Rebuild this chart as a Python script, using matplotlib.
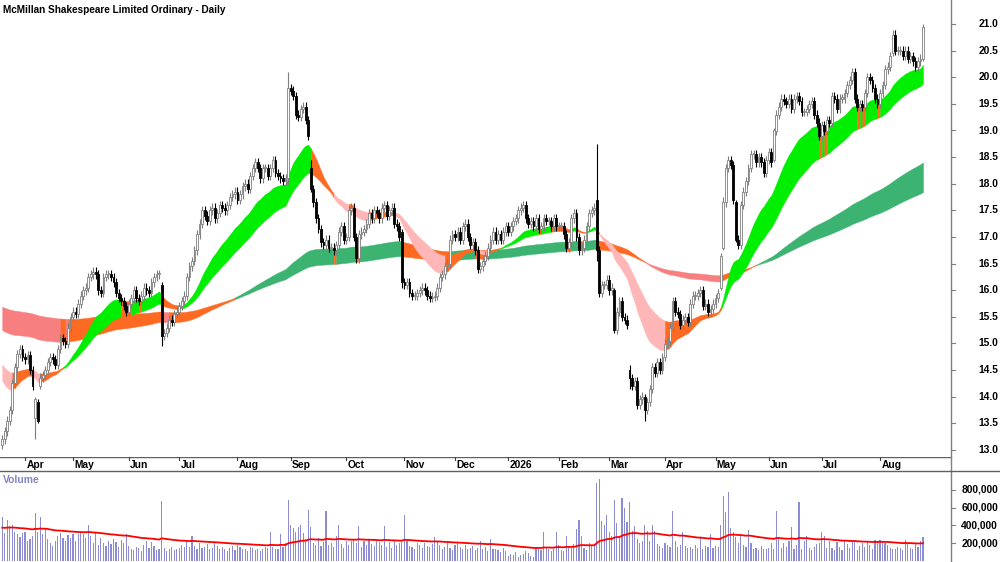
import numpy as np
import pandas as pd
import matplotlib
matplotlib.use("Agg")
import matplotlib.pyplot as plt
import matplotlib.transforms as mtrans

plt.rcParams['font.family'] = ['Liberation Sans', 'DejaVu Sans']

TITLE = "McMillan Shakespeare Limited Ordinary - Daily"

close = [
    13.2, 13.35, 13.55, 13.75, 14.25, 14.55, 14.8, 14.9, 14.75, 14.7,
    14.78, 14.5, 14.2, 13.95, 13.55, 14.35, 14.4, 14.5, 14.65, 14.75,
    14.7, 14.6, 14.9, 15.1, 15.05, 15.0, 15.3, 15.5, 15.6, 15.55,
    15.75, 15.9, 16.0, 16.05, 16.25, 16.3, 16.35, 16.3, 16.0, 15.95,
    16.25, 16.3, 16.3, 16.25, 16.15, 15.95, 15.85, 15.8, 15.7, 15.6,
    15.75, 15.85, 16.0, 15.85, 15.8, 15.9, 16.05, 16.0, 15.95, 16.15,
    16.25, 16.3, 16.3, 15.15, 15.2, 15.3, 15.45, 15.4, 15.55, 15.6,
    15.7, 15.8, 15.9, 16.25, 16.45, 16.55, 16.75, 17.05, 17.25, 17.5,
    17.4, 17.3, 17.5, 17.55, 17.35, 17.45, 17.6, 17.55, 17.5, 17.6,
    17.75, 17.8, 17.85, 17.7, 17.8, 17.95, 18.0, 17.9, 18.15, 18.3,
    18.4, 18.3, 18.1, 18.3, 18.3, 18.15, 18.3, 18.45, 18.2, 18.15,
    18.1, 18.05, 18.1, 19.8, 19.75, 19.65, 19.3, 19.25, 19.4, 19.45,
    19.2, 18.9, 17.9, 17.65, 17.35, 17.15, 16.9, 16.85, 16.95, 16.8,
    16.8, 16.75, 16.85, 17.1, 17.2, 16.95, 17.0, 17.5, 17.55, 17.0,
    16.6, 17.05, 17.1, 17.15, 17.25, 17.45, 17.35, 17.5, 17.45, 17.35,
    17.55, 17.6, 17.4, 17.5, 17.55, 17.25, 17.2, 17.0, 16.15, 16.1,
    16.15, 15.95, 15.9, 15.9, 15.95, 16.0, 16.05, 16.0, 15.9, 15.85,
    15.88, 15.9, 16.05, 16.25, 16.3, 16.45, 16.5, 16.95, 17.05, 17.0,
    17.1, 16.95, 17.2, 17.25, 17.0, 16.85, 16.9, 16.75, 16.4, 16.45,
    16.55, 16.65, 16.8, 16.95, 17.1, 16.95, 17.05, 16.95, 17.1, 17.2,
    17.1, 17.2, 17.3, 17.35, 17.5, 17.55, 17.6, 17.35, 17.25, 17.3,
    17.2, 17.35, 17.15, 17.2, 17.35, 17.3, 17.3, 17.2, 17.35, 17.2,
    17.2, 17.2, 17.05, 16.8, 16.9, 17.35, 17.45, 17.0, 16.75, 16.8,
    16.95, 17.2, 17.45, 17.5, 17.55, 16.75, 15.95, 16.1, 16.1, 16.2,
    16.0, 16.05, 15.25, 15.6, 15.8, 15.5, 15.45, 15.35, 14.35, 14.2,
    14.3, 13.85, 13.95, 14.0, 13.75, 13.9, 14.15, 14.55, 14.45, 14.65,
    14.5, 14.75, 15.0, 15.05, 15.3, 15.8, 15.6, 15.55, 15.35, 15.45,
    15.5, 15.4, 15.75, 15.9, 15.9, 15.95, 16.0, 15.7, 15.75, 15.6,
    15.65, 15.75, 15.85, 15.95, 16.65, 17.65, 18.3, 18.45, 18.35, 17.7,
    16.95, 16.85, 17.6, 17.85, 18.05, 18.3, 18.55, 18.55, 18.4, 18.5,
    18.4, 18.2, 18.45, 18.6, 18.4, 19.0, 19.3, 19.45, 19.6, 19.55,
    19.5, 19.6, 19.4, 19.6, 19.65, 19.55, 19.35, 19.35, 19.4, 19.5,
    19.55, 19.3, 19.15, 18.9, 19.1, 19.0, 19.2, 19.15, 19.65, 19.6,
    19.4, 19.6, 19.6, 19.7, 19.85, 19.95, 20.1, 19.6, 19.45, 19.5,
    19.45, 19.7, 20.0, 19.95, 19.8, 19.6, 19.5, 19.7, 19.85, 20.15,
    20.2, 20.4, 20.8, 20.5, 20.5, 20.5, 20.4, 20.5, 20.35, 20.4,
    20.3, 20.2, 20.3, 20.35, 20.95,
]

# bars whose open/high/low/close were read individually (o, h, l, c)
ohlc_overrides = {
    13: (13.6, 14.0, 13.2, 13.95),
    14: (13.9, 13.95, 13.5, 13.55),
    15: (14.2, 14.45, 14.15, 14.35),
    63: (16.1, 16.15, 14.95, 15.15),
    113: (18.1, 20.1, 18.0, 19.8),
    122: (18.3, 18.45, 17.85, 17.9),
    158: (17.1, 17.15, 16.05, 16.15),
    235: (17.7, 18.75, 16.55, 16.75),
    242: (16.0, 16.05, 15.2, 15.25),
    248: (14.5, 14.6, 14.15, 14.35),
    254: (14.0, 14.05, 13.55, 13.75),
    284: (16.05, 16.7, 16.0, 16.65),
    285: (16.8, 17.75, 16.75, 17.65),
    290: (17.65, 17.7, 16.9, 16.95),
    305: (18.45, 19.05, 18.4, 19.0),
    352: (20.45, 20.88, 20.4, 20.8),
    364: (20.35, 21.0, 20.3, 20.95),
}
first_open = 13.1
wick = 0.08

volume_k = [
    500, 320, 460, 390, 400, 330, 300, 270, 310, 330,
    230, 250, 280, 540, 330, 500, 300, 370, 250, 200,
    170, 230, 280, 320, 260, 230, 290, 260, 300, 230,
    300, 330, 300, 260, 400, 280, 200, 320, 180, 260,
    200, 170, 230, 190, 250, 210, 160, 240, 200, 300,
    170, 140, 120, 160, 150, 110, 180, 220, 150, 210,
    170, 120, 140, 670, 150, 110, 130, 160, 120, 140,
    150, 180, 160, 220, 160, 280, 170, 140, 200, 150,
    160, 190, 140, 150, 200, 170, 130, 160, 140, 110,
    150, 170, 120, 180, 160, 140, 130, 110, 160, 150,
    120, 140, 110, 130, 160, 150, 330, 160, 140, 130,
    300, 160, 200, 690, 410, 370, 330, 380, 400, 310,
    250, 570, 380, 200, 180, 260, 170, 210, 560, 180,
    200, 160, 280, 400, 190, 150, 230, 180, 220, 250,
    200, 390, 160, 220, 180, 250, 190, 170, 230, 210,
    180, 395, 160, 210, 150, 230, 180, 200, 210, 520,
    220, 170, 160, 140, 200, 180, 150, 200, 170, 160,
    190, 270, 210, 180, 140, 160, 200, 150, 120, 180,
    200, 160, 130, 180, 140, 150, 170, 120, 150, 230,
    130, 160, 110, 250, 140, 130, 120, 100, 150, 110,
    60, 80, 70, 100, 50, 70, 80, 110, 90, 60,
    50, 150, 140, 120, 330, 160, 130, 110, 140, 330,
    180, 120, 110, 280, 170, 150, 190, 360, 460, 280,
    150, 120, 200, 180, 170, 875, 920, 450, 400, 520,
    330, 280, 690, 430, 280, 710, 600, 440, 660, 340,
    390, 250, 200, 220, 400, 340, 220, 400, 340, 190,
    170, 150, 200, 180, 160, 560, 220, 160, 180, 330,
    170, 150, 160, 140, 180, 150, 270, 140, 170, 160,
    300, 150, 170, 160, 400, 730, 550, 780, 370, 330,
    270, 200, 290, 180, 160, 350, 200, 130, 150, 120,
    170, 140, 130, 150, 200, 130, 560, 270, 150, 200,
    160, 230, 380, 130, 180, 660, 140, 220, 280, 150,
    120, 160, 190, 200, 330, 280, 150, 230, 150, 120,
    210, 160, 120, 230, 190, 150, 220, 230, 120, 170,
    200, 160, 210, 180, 140, 240, 220, 240, 230, 200,
    180, 150, 130, 140, 160, 150, 120, 240, 200, 150,
    130, 200, 160, 220, 270,
]

month_labels = ["Apr", "May", "Jun", "Jul", "Aug", "Sep", "Oct", "Nov", "Dec",
                "2026", "Feb", "Mar", "Apr", "May", "Jun", "Jul", "Aug"]
price_ticks = [13.0, 13.5, 14.0, 14.5, 15.0, 15.5, 16.0, 16.5, 17.0, 17.5,
               18.0, 18.5, 19.0, 19.5, 20.0, 20.5, 21.0]
volume_ticks = [200000, 400000, 600000, 800000]

# moving-average ribbons (periods) and their starting levels read at the left edge
short_periods = [23, 26, 30, 34, 38, 43]
long_periods = [150, 165, 180, 200, 220, 240]
short_start = (14.3, 14.6)
long_start = (15.25, 15.69)
vol_ma_span = 60
vol_ma_start = 370000

asx_holidays = ["2025-04-18", "2025-04-21", "2025-04-25", "2025-06-09",
                "2025-12-25", "2025-12-26", "2026-01-01", "2026-01-26",
                "2026-04-03", "2026-04-06", "2026-06-08"]

# ------------------------------------------------------------------
n = min(len(close), len(volume_k))
close_a = np.array(close[:n], dtype=float)
vol = np.array(volume_k[:n], dtype=float) * 1000
cbd = pd.offsets.CustomBusinessDay(holidays=asx_holidays)
dates = pd.date_range("2025-03-19", periods=n, freq=cbd)
x = np.arange(n)

opens = np.empty(n)
opens[0] = first_open
opens[1:] = close_a[:-1]
for i, (o, h, l, c) in ohlc_overrides.items():
    if i < n:
        close_a[i] = c
        if i + 1 < n and (i + 1) not in ohlc_overrides:
            opens[i + 1] = c
highs = np.maximum(opens, close_a) + wick
lows = np.minimum(opens, close_a) - wick
for i, (o, h, l, c) in ohlc_overrides.items():
    if i < n:
        opens[i], highs[i], lows[i] = o, h, l


def ema_stack(periods, start):
    seeds = np.linspace(start[0], start[1], len(periods))
    out = np.empty((len(periods), n))
    for k, (p, s) in enumerate(zip(periods, seeds)):
        a = 2.0 / (p + 1)
        e = s
        for i in range(n):
            if i > 0:
                e = e + a * (close_a[i] - e)
            out[k, i] = e
    return out


def draw_ribbon(ax, stack, c_up, c_down, c_mix, z):
    lo = stack.min(axis=0)
    hi = stack.max(axis=0)
    slope = np.diff(stack, axis=1)
    slope = np.concatenate([slope[:, :1], slope], axis=1)
    fast_above = stack[0] > stack[-1]
    state = np.where(np.all(slope > 0, axis=0) & fast_above, 1,
                     np.where(np.all(slope < 0, axis=0) & ~fast_above, -1, 0))
    colors = {1: c_up, -1: c_down, 0: c_mix}
    start = 0
    for i in range(1, n + 1):
        if i == n or state[i] != state[start]:
            end = min(i, n - 1)
            sl = slice(start, end + 1)
            ax.fill_between(x[sl], lo[sl], hi[sl], color=colors[state[start]],
                            linewidth=0.3, edgecolor=colors[state[start]], zorder=z)
            start = i


short_stack = ema_stack(short_periods, short_start)
long_stack = ema_stack(long_periods, long_start)

W, H = 1000, 562
fig = plt.figure(figsize=(W / 100, H / 100), dpi=100)
fig.patch.set_facecolor("white")

RIGHT = 951
x0_px, dx_px = 2.23, 2.5296
xlim = ((0 - x0_px) / dx_px, (RIGHT - x0_px) / dx_px)

price_bot = 457
strip_bot = 471
ax = fig.add_axes([0, 1 - price_bot / H, RIGHT / W, price_bot / H])
ax_d = fig.add_axes([0, 1 - strip_bot / H, RIGHT / W, (strip_bot - price_bot) / H])
ax_v = fig.add_axes([0, 0, RIGHT / W, (H - strip_bot) / H])

px_per = 53.25
ax.set_ylim(13.0 - (price_bot - 450) / px_per, 21.0 + 24 / px_per)
ax.set_xlim(*xlim)

GREY = "#7f7f7f"
draw_ribbon(ax, long_stack, "#3cb371", "#f77f7f", "#ff6a22", 1)
draw_ribbon(ax, short_stack, "#00ee00", "#ffb6b6", "#ff6a22", 2)

up = close_a >= opens
for mask, wc, fc, ec in [(up, GREY, "white", GREY), (~up, "black", "black", "black")]:
    ax.vlines(x[mask], lows[mask], highs[mask], color=wc, linewidth=0.8, zorder=3)
    body_lo = np.minimum(opens, close_a)[mask]
    body_h = np.maximum(np.abs(close_a - opens)[mask], 0.02)
    ax.bar(x[mask], body_h, bottom=body_lo, width=0.72, color=fc, edgecolor=ec,
           linewidth=0.6, zorder=4)

for a in (ax, ax_d, ax_v):
    for s in ("left", "top", "bottom"):
        a.spines[s].set_visible(False)
    a.spines["right"].set_color(GREY)
    a.spines["right"].set_linewidth(1.0)
    a.set_xticks([])
    a.set_yticks([])
    a.set_facecolor("white")
    a.set_xlim(*xlim)

# price labels on the right
tf = mtrans.blended_transform_factory(fig.transFigure, ax.transData)
for t in price_ticks:
    ax.plot([xlim[1], xlim[1] + 1.6], [t, t], color=GREY, lw=0.8, clip_on=False)
    fig.text(0.998, t, f"{t:.1f}", transform=tf, ha="right", va="center",
             fontsize=7.4, fontweight="bold", color="black")

# date strip
ax_d.set_ylim(0, 1)
ax_d.axhline(1, color="#606060", lw=1.0)
fig.add_artist(plt.Line2D([0, 1], [1 - strip_bot / H, 1 - strip_bot / H],
                          transform=fig.transFigure, color="#606060", lw=1.0))
mstarts = [i for i in range(1, n) if dates[i].month != dates[i - 1].month]
for i, lab in zip(mstarts, month_labels):
    ax_d.plot([i, i], [1, 0.78], color="#404040", lw=0.8)
    ax_d.text(i + 0.5, 0.45, lab, ha="left", va="center", fontsize=7.4,
              fontweight="bold", color="black")

# volume panel
ax_v.set_ylim(-11000, 1011000)
ax_v.bar(x, vol, width=0.45, color="#8c8cd2", linewidth=0, zorder=2)
vma = np.empty(n)
a = 2.0 / (vol_ma_span + 1)
e = vol_ma_start
for i in range(n):
    e = e + a * (vol[i] - e)
    vma[i] = e
ax_v.plot(x, vma, color="#ff0000", lw=1.3, zorder=3)
tv = mtrans.blended_transform_factory(fig.transFigure, ax_v.transData)
for t in volume_ticks:
    ax_v.plot([xlim[1], xlim[1] + 1.6], [t, t], color=GREY, lw=0.8, clip_on=False)
    fig.text(0.998, t, f"{t:,}", transform=tv, ha="right", va="center",
             fontsize=7.4, fontweight="bold", color="black")
ax_v.text(0.003, 0.9, "Volume", transform=ax_v.transAxes, ha="left", va="center",
          fontsize=7.4, fontweight="bold", color="#8484c4")

fig.text(0.003, 1 - 10 / H, TITLE, ha="left", va="center", fontsize=7.2,
         fontweight="bold", color="black")

fig.savefig("out.png", dpi=100, facecolor="white")
